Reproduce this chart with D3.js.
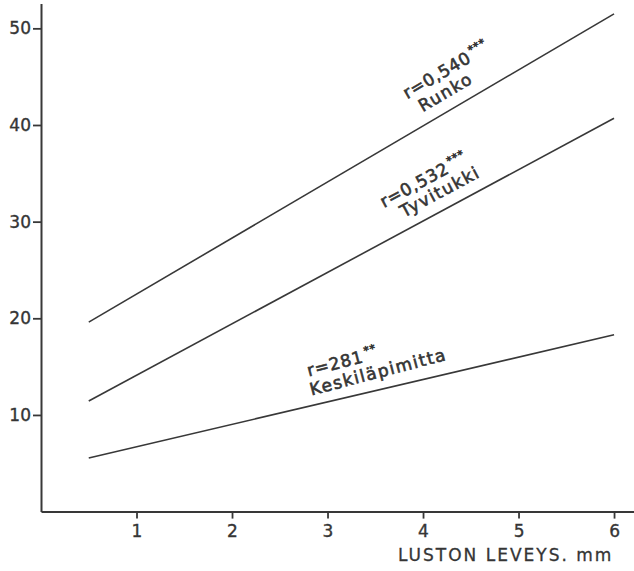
<!DOCTYPE html>
<html>
<head>
<meta charset="utf-8">
<script src="https://cdn.jsdelivr.net/npm/d3@7"></script>
<style>
  html, body { margin: 0; padding: 0; background: #fff; }
  svg { display: block; }
  text { font-family: "DejaVu Sans", sans-serif; fill: #353535; }
</style>
</head>
<body>
<script>
// Regression lines: value at ring width 0.5 mm and 6 mm
const xEnds = [0.5, 6];
const runko = [19.6, 51.5];
const tyvitukki = [11.45, 40.7];
const keskilapimitta = [5.55, 18.3];

const seriesNames = ["Runko", "Tyvitukki", "Keskiläpimitta"];
const rValues = ["r=0,540", "r=0,532", "r=281"];
const rStars = ["***", "***", "**"];

const xTicks = [1, 2, 3, 4, 5, 6];
const yTicks = [10, 20, 30, 40, 50];
const xTitle = "LUSTON LEVEYS. mm";

const W = 634, H = 571;
const ink = "#383838";

const svg = d3.select("body").append("svg")
  .attr("width", W).attr("height", H);

const x = d3.scaleLinear().domain([0, 6.209]).range([41, 634]);
const y = d3.scaleLinear().domain([0, 52.56]).range([511.6, 3.6]);

// axes
const gx = svg.append("g")
  .attr("transform", `translate(0,${y(0)})`)
  .call(d3.axisBottom(x).tickValues(xTicks).tickFormat(d3.format("d"))
    .tickSize(7).tickSizeOuter(0).tickPadding(6));
const gy = svg.append("g")
  .attr("transform", `translate(${x(0)},0)`)
  .call(d3.axisLeft(y).tickValues(yTicks).tickFormat(d3.format("d"))
    .tickSize(8).tickSizeOuter(0).tickPadding(2));

[gx, gy].forEach(g => {
  g.select(".domain").attr("stroke", ink).attr("stroke-width", 2);
  g.selectAll(".tick line").attr("stroke", ink).attr("stroke-width", 1.8);
  g.selectAll(".tick text")
    .style("font-family", "'DejaVu Sans', sans-serif")
    .style("font-size", "17px")
    .attr("fill", "#353535")
    .attr("stroke", "#353535")
    .attr("stroke-width", 0.35);
});

// axis title
svg.append("text")
  .attr("x", 398).attr("y", 561)
  .style("font-size", "17px")
  .style("letter-spacing", "2px")
  .attr("stroke", "#353535")
  .attr("stroke-width", 0.3)
  .text(xTitle);

// series lines with rotated labels
const series = [runko, tyvitukki, keskilapimitta];
const labelPos = [
  { nameX: 4.06, nameD: 12, rX: 4.0, rD: 31, tilt: 0 },
  { nameX: 3.86, nameD: 12, rX: 3.74, rD: 30, tilt: 0 },
  { nameX: 2.86, nameD: 10, rX: 2.88, rD: 29, tilt: 1.5 }
];

const line = d3.line().x(d => x(d[0])).y(d => y(d[1]));

series.forEach((vals, i) => {
  const pts = xEnds.map((xv, j) => [xv, vals[j]]);
  svg.append("path")
    .attr("d", line(pts))
    .attr("fill", "none")
    .attr("stroke", ink)
    .attr("stroke-width", 1.6);

  const ang = Math.atan2(y(vals[0]) - y(vals[1]), x(xEnds[1]) - x(xEnds[0])) * 180 / Math.PI;
  const valAt = xv => vals[0] + (vals[1] - vals[0]) * (xv - xEnds[0]) / (xEnds[1] - xEnds[0]);
  const p = labelPos[i];
  const rot = -(ang + p.tilt);

  const gName = svg.append("g")
    .attr("transform", `translate(${x(p.nameX)},${y(valAt(p.nameX))}) rotate(${rot})`);
  gName.append("text")
    .attr("y", -p.nameD)
    .style("font-size", "17px")
    .style("letter-spacing", "1.5px")
    .attr("stroke", "#353535")
    .attr("stroke-width", 0.6)
    .text(seriesNames[i]);

  const gR = svg.append("g")
    .attr("transform", `translate(${x(p.rX)},${y(valAt(p.rX))}) rotate(${rot})`);
  const t = gR.append("text")
    .attr("y", -p.rD)
    .style("font-size", "17px")
    .style("letter-spacing", "0.8px")
    .attr("stroke", "#353535")
    .attr("stroke-width", 0.6);
  t.append("tspan").text(rValues[i]);
  t.append("tspan")
    .attr("dy", -7)
    .attr("dx", 2)
    .style("font-size", "11px")
    .text(rStars[i]);
});
</script>
</body>
</html>
